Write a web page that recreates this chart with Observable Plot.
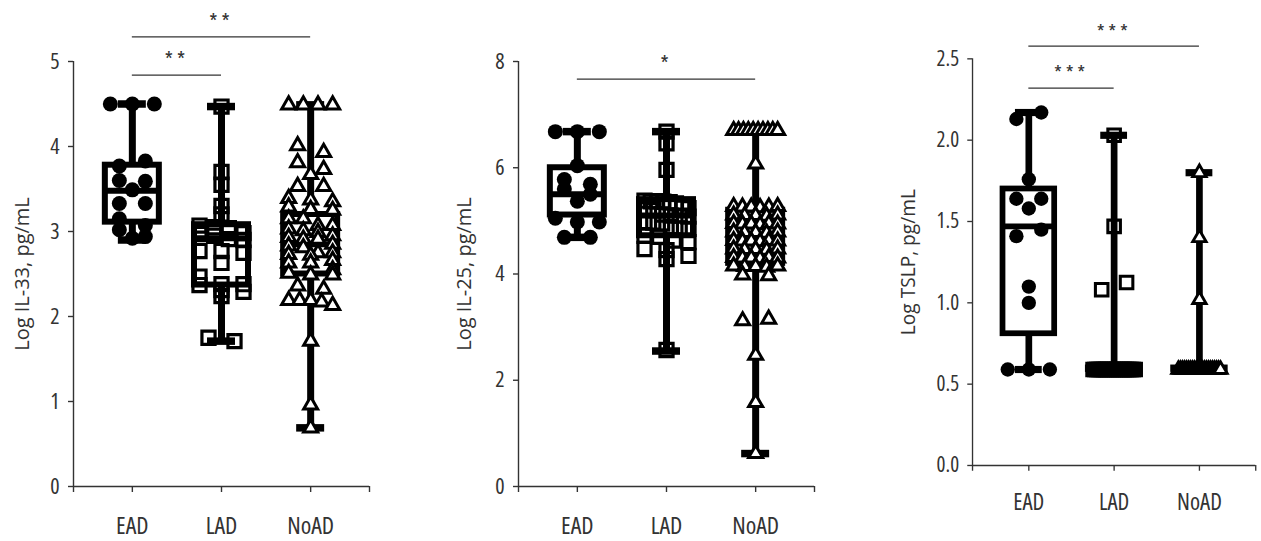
<!DOCTYPE html>
<html>
<head>
<meta charset="utf-8">
<script src="https://cdn.jsdelivr.net/npm/d3@7"></script>
<script src="https://cdn.jsdelivr.net/npm/@observablehq/plot@0.6"></script>
<style>
  html, body { margin: 0; padding: 0; background: #fff; width: 1261px; height: 541px; overflow: hidden; }
  #wrap { position: relative; width: 1261px; height: 541px; overflow: hidden; }
  .panel { position: absolute; top: 0; }
  .panel svg text { font-stretch: 85%; }
  .panel svg [aria-label="x-axis tick label"] text { font-stretch: 80%; }
  .panel svg g[aria-label="text"][font-size="20"] text { font-stretch: 100%; }
  .panel svg g[aria-label="text"][font-size="21"] text { letter-spacing: 4px; }
</style>
</head>
<body>
<div id="wrap"></div>
<script>
// ---------- categories ----------
const groups = ["EAD", "LAD", "NoAD"];

// ---------- IL-33 ----------
const il33EAD = [4.5, 4.5, 4.5, 3.77, 3.83, 3.6, 3.59, 3.49, 3.33, 3.33, 3.15, 3.07, 3.02, 2.92, 2.94];
const il33LAD = [4.47, 3.70, 3.55, 3.30, 3.20, 3.07, 3.05, 3.04, 2.98, 2.97, 2.95, 2.91, 2.90, 2.77, 2.77, 2.75, 2.63, 2.47, 2.38, 2.38, 2.37, 2.31, 2.29, 2.24, 1.75, 1.71];
const il33NoAD = [4.49, 4.49, 4.49, 4.49, 4.01, 3.93, 3.81, 3.73, 3.67, 3.53, 3.53, 3.39, 3.37, 3.35, 3.29, 3.26, 3.25, 3.15, 3.15, 3.07, 3.07, 3.03, 3.01, 2.99, 2.95, 2.93, 2.91, 2.91, 2.85, 2.83, 2.81, 2.75, 2.75, 2.73, 2.72, 2.66, 2.63, 2.63, 2.55, 2.51, 2.49, 2.49, 2.36, 2.32, 2.19, 2.19, 2.19, 2.17, 2.13, 1.71, 0.96, 0.69];
const il33Min = [2.90, 1.71, 0.69];
const il33Q1 = [3.11, 2.37, 2.50];
const il33Median = [3.48, 2.92, 2.85];
const il33Q3 = [3.78, 3.08, 3.20];
const il33Max = [4.50, 4.47, 4.49];
const il33Ticks = [0, 1, 2, 3, 4, 5];
const il33SigFrom = ["EAD", "EAD"];
const il33SigTo = ["LAD", "NoAD"];
const il33SigLevel = [4.84, 5.29];
const il33SigLabel = ["**", "**"];

// ---------- IL-25 ----------
const il25EAD = [6.68, 6.68, 6.68, 6.04, 5.78, 5.69, 5.6, 5.5, 5.37, 5.05, 4.98, 4.98, 4.69, 4.69];
const il25LAD = [6.68, 6.46, 5.96, 5.38, 5.37, 5.37, 5.36, 5.35, 5.33, 5.25, 5.24, 5.22, 5.2, 5.12, 5.1, 5.1, 5.08, 4.98, 4.97, 4.95, 4.88, 4.86, 4.85, 4.72, 4.7, 4.63, 4.6, 4.47, 4.45, 4.34, 4.28, 2.57];
const il25NoAD = [6.7, 6.7, 6.7, 6.7, 6.7, 6.7, 6.7, 6.7, 6.7, 6.7, 6.07,
  5.27, 5.26, 5.26, 5.25, 5.26, 5.27,
  5.11, 5.10, 5.10, 5.09, 5.11,
  4.95, 4.94, 4.94, 4.93, 4.95, 4.94,
  4.79, 4.78, 4.78, 4.77, 4.79,
  4.63, 4.62, 4.62, 4.61, 4.63, 4.62,
  4.47, 4.46, 4.46, 4.45, 4.47,
  4.31, 4.30, 4.30, 4.29, 4.31, 4.30,
  4.15, 4.14, 4.14, 4.13, 4.15,
  3.98, 3.97, 3.12, 3.15, 2.47, 1.58, 0.62];
const il25Min = [4.69, 2.55, 0.62];
const il25Q1 = [5.11, 4.72, 4.20];
const il25Median = [5.50, 5.10, 4.70];
const il25Q3 = [6.00, 5.40, 5.20];
const il25Max = [6.68, 6.68, 6.70];
const il25Ticks = [0, 2, 4, 6, 8];
const il25SigFrom = ["EAD"];
const il25SigTo = ["NoAD"];
const il25SigLevel = [7.67];
const il25SigLabel = ["*"];

// ---------- TSLP ----------
const tslpEAD = [2.13, 2.17, 1.76, 1.64, 1.64, 1.58, 1.41, 1.45, 1.10, 1.00, 0.59, 0.59, 0.59];
const tslpLAD = [2.03, 1.47, 1.08, 1.125, 0.59, 0.59, 0.59, 0.59, 0.59, 0.59, 0.59, 0.59, 0.59, 0.59, 0.59, 0.59, 0.59, 0.59, 0.59, 0.59, 0.59, 0.59, 0.59, 0.59, 0.59, 0.59, 0.59, 0.59];
const tslpNoAD = [1.80, 1.40, 1.02, 0.59, 0.59, 0.59, 0.59, 0.59, 0.59, 0.59, 0.59, 0.59, 0.59, 0.59, 0.59, 0.59, 0.59, 0.59, 0.59, 0.59, 0.59, 0.59, 0.59, 0.59, 0.59];
const tslpMin = [0.59, 0.59, 0.59];
const tslpQ1 = [0.81, 0.59, 0.59];
const tslpMedian = [1.47, 0.59, 0.59];
const tslpQ3 = [1.70, 0.60, 0.60];
const tslpMax = [2.17, 2.03, 1.80];
const tslpTicks = [0, 0.5, 1.0, 1.5, 2.0, 2.5];
const tslpSigFrom = ["EAD", "EAD"];
const tslpSigTo = ["LAD", "NoAD"];
const tslpSigLevel = [2.32, 2.578];
const tslpSigLabel = ["***", "***"];

// ---------- layout / style constants ----------
const H = 541, MT = 61, MB = 55;
const X_DOMAIN = [-0.66, 2.66];
const ROW_TOL = 8;       // px: points closer than this vertically share a row
const HALF_SPREAD = 22;  // px: max horizontal spread of a row
const PAIR_GAP = 26;     // px: max gap between neighbours in a row
const BOX_HALF = 27;     // px
const CAP_HALF = 14;     // px
const FONT = "'Open Sans', 'DejaVu Sans', sans-serif";

function rowOffsets(vals, pxPerY) {
  const order = d3.range(vals.length).sort((a, b) => vals[b] - vals[a] || a - b);
  const offs = new Array(vals.length).fill(0);
  let i = 0;
  while (i < order.length) {
    const start = vals[order[i]];
    const row = [];
    while (i < order.length && (start - vals[order[i]]) * pxPerY <= ROW_TOL) { row.push(order[i]); i++; }
    row.sort((a, b) => a - b);
    const n = row.length;
    if (n > 1) {
      const spread = Math.min(HALF_SPREAD * 2, PAIR_GAP * (n - 1));
      row.forEach((k, j) => { offs[k] = -spread / 2 + spread * j / (n - 1); });
    }
  }
  return offs;
}

function panel(cfg) {
  const {left, width, marginLeft, marginRight, yMax, ticks, tickFormat, label, labelDx,
         series, min, q1, median, q3, max, sigFrom, sigTo, sigLevel, sigLabel} = cfg;
  const pxPerX = (width - marginLeft - marginRight) / (X_DOMAIN[1] - X_DOMAIN[0]);
  const pxPerY = (H - MT - MB) / yMax;
  const boxHalf = BOX_HALF / pxPerX, capHalf = CAP_HALF / pxPerX;

  const pts = groups.map((g, gi) => {
    const vals = series[gi];
    const offs = rowOffsets(vals, pxPerY);
    return vals.map((v, i) => ({group: g, gi, value: v, xpos: gi + offs[i] / pxPerX}));
  });
  const boxes = groups.map((g, i) => ({group: g, gi: i, min: min[i], q1: q1[i], median: median[i], q3: q3[i], max: max[i]}));
  const sig = sigFrom.map((f, i) => ({a: groups.indexOf(f), b: groups.indexOf(sigTo[i]), level: sigLevel[i], label: sigLabel[i]}));

  const plot = Plot.plot({
    width, height: H, marginTop: MT, marginBottom: MB, marginLeft, marginRight,
    x: {domain: X_DOMAIN},
    y: {domain: [0, yMax]},
    style: {fontFamily: FONT, fontSize: "21px", color: "#333", background: "white", overflow: "visible"},
    marks: [
      Plot.ruleX([X_DOMAIN[0]], {stroke: "#333", strokeWidth: 1.4}),
      Plot.ruleY([0], {stroke: "#333", strokeWidth: 1.4}),
      Plot.axisY({ticks, tickFormat, tickSize: 5, tickPadding: 9, fontSize: 22, strokeWidth: 1.4, label: null}),
      Plot.text([label], {frameAnchor: "left", rotate: -90, dx: labelDx, text: (d) => d, textAnchor: "middle", lineAnchor: "middle", fontSize: 20, fill: "#333"}),
      Plot.axisX({ticks: [0, 1, 2], tickFormat: (i) => groups[i], tickSize: 6, tickPadding: 24, fontSize: 24, strokeWidth: 1.4, label: null}),
      Plot.axisX({ticks: X_DOMAIN, tickFormat: () => "", tickSize: 6, strokeWidth: 1.4, label: null}),
      // whiskers
      Plot.ruleX(boxes, {x: "gi", y1: "min", y2: "max", stroke: "black", strokeWidth: 7}),
      // boxes
      Plot.rect(boxes, {x1: (d) => d.gi - boxHalf, x2: (d) => d.gi + boxHalf, y1: "q1", y2: "q3", fill: "white", stroke: "black", strokeWidth: 6}),
      Plot.ruleY(boxes, {y: "median", x1: (d) => d.gi - boxHalf, x2: (d) => d.gi + boxHalf, stroke: "black", strokeWidth: 6}),
      // caps
      Plot.ruleY(boxes, {y: "min", x1: (d) => d.gi - capHalf, x2: (d) => d.gi + capHalf, stroke: "black", strokeWidth: 7.5}),
      Plot.ruleY(boxes, {y: "max", x1: (d) => d.gi - capHalf, x2: (d) => d.gi + capHalf, stroke: "black", strokeWidth: 7.5}),
      // points
      Plot.dot(pts[0], {x: "xpos", y: "value", symbol: "circle", r: 7.5, fill: "black"}),
      Plot.dot(pts[1], {x: "xpos", y: "value", symbol: "square", r: 7.4, fill: "none", stroke: "black", strokeWidth: 3.2}),
      Plot.dot(pts[2], {x: "xpos", y: "value", symbol: "triangle", r: 5.2, fill: "white", stroke: "black", strokeWidth: 3}),
      // significance bars
      Plot.ruleY(sig, {y: "level", x1: "a", x2: "b", stroke: "#333", strokeWidth: 1.3}),
      Plot.text(sig, {x: (d) => (d.a + d.b) / 2, y: "level", text: "label", lineAnchor: "bottom", dy: -8, fontSize: 21, fill: "#333"})
    ]
  });
  const div = document.createElement("div");
  div.className = "panel";
  div.style.left = left + "px";
  div.appendChild(plot);
  document.getElementById("wrap").appendChild(div);
}

panel({left: 0, width: 420, marginLeft: 73, marginRight: 51, yMax: 5, ticks: il33Ticks, tickFormat: d3.format("d"),
       label: "Log IL-33, pg/mL", labelDx: -51,
       series: [il33EAD, il33LAD, il33NoAD], min: il33Min, q1: il33Q1, median: il33Median, q3: il33Q3, max: il33Max,
       sigFrom: il33SigFrom, sigTo: il33SigTo, sigLevel: il33SigLevel, sigLabel: il33SigLabel});

panel({left: 420, width: 420, marginLeft: 98, marginRight: 26, yMax: 8, ticks: il25Ticks, tickFormat: d3.format("d"),
       label: "Log IL-25, pg/mL", labelDx: -54,
       series: [il25EAD, il25LAD, il25NoAD], min: il25Min, q1: il25Q1, median: il25Median, q3: il25Q3, max: il25Max,
       sigFrom: il25SigFrom, sigTo: il25SigTo, sigLevel: il25SigLevel, sigLabel: il25SigLabel});

panel({left: 840, width: 440, marginLeft: 138, marginRight: 6, yMax: 2.5, ticks: tslpTicks, tickFormat: d3.format(".1f"),
       label: "Log TSLP, pg/mL", labelDx: -66,
       series: [tslpEAD, tslpLAD, tslpNoAD], min: tslpMin, q1: tslpQ1, median: tslpMedian, q3: tslpQ3, max: tslpMax,
       sigFrom: tslpSigFrom, sigTo: tslpSigTo, sigLevel: tslpSigLevel, sigLabel: tslpSigLabel});
</script>
</body>
</html>
